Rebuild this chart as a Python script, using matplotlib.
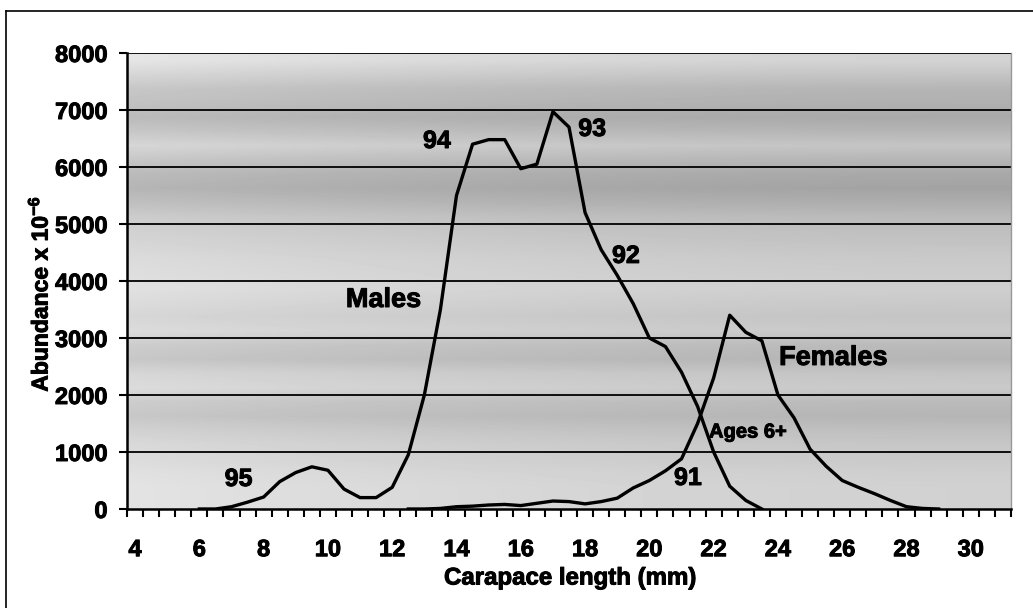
import numpy as np
import matplotlib
matplotlib.use("Agg")
import matplotlib.pyplot as plt
from matplotlib.lines import Line2D
import matplotlib.patheffects as pe

plt.rcParams['font.family'] = ['Liberation Sans', 'DejaVu Sans']
plt.rcParams['font.weight'] = 'bold'
plt.rcParams['mathtext.fontset'] = 'custom'
plt.rcParams['mathtext.rm'] = 'Liberation Sans:bold'
plt.rcParams['mathtext.bf'] = 'Liberation Sans:bold'
plt.rcParams['mathtext.default'] = 'bf'

# ---- data (carapace length, mm; abundance x 10^-6) ----
males_x = [6, 6.5, 7, 7.5, 8, 8.5, 9, 9.5, 10, 10.5, 11, 11.5, 12, 12.5, 13, 13.5,
           14, 14.5, 15, 15.5, 16, 16.5, 17, 17.5, 18, 18.5, 19, 19.5, 20, 20.5,
           21, 21.5, 22, 22.5, 23, 23.5]
males_y = [0, 0, 40, 120, 210, 480, 640, 740, 680, 350, 200, 200, 380, 950, 2000, 3500,
           5500, 6400, 6480, 6480, 5970, 6050, 6970, 6700, 5200, 4550, 4100, 3600, 3000, 2850,
           2400, 1800, 1000, 400, 150, 0]

females_x = [12.5, 13, 13.5, 14, 14.5, 15, 15.5, 16, 16.5, 17, 17.5, 18, 18.5, 19, 19.5,
             20, 20.5, 21, 21.5, 22, 22.5, 23, 23.5, 24, 24.5, 25, 25.5, 26, 26.5, 27,
             27.5, 28, 28.5, 29]
females_y = [0, 0, 10, 40, 50, 70, 80, 60, 100, 140, 130, 90, 130, 190, 370,
             500, 670, 880, 1500, 2300, 3400, 3100, 2950, 2000, 1600, 1050, 750, 500, 380, 270,
             150, 40, 10, 0]

x_tick_labels = [str(v) for v in range(4, 31, 2)]
y_ticks = list(range(0, 8001, 1000))

annotations = [("95", 7.22, 526, 18), ("94", 13.39, 6456, 18), ("93", 18.22, 6667, 18),
               ("92", 19.27, 4440, 18), ("91", 21.2, 544, 18), ("Males", 11.73, 3667, 19.5),
               ("Females", 25.72, 2650, 19.5), ("Ages 6+", 23.07, 1350, 14.5)]

bold_fx = [pe.withStroke(linewidth=0.7, foreground='black')]

# ---- figure ----
W, H = 1033, 608
fig = plt.figure(figsize=(W / 100, H / 100), dpi=100)
ax = fig.add_axes([127 / W, 1 - 509 / H, (1011 - 127) / W, (509 - 53) / H])

xmin, xmax = 3.75, 31.25
ymin, ymax = 0, 8000

# background shading (horizontal gray bands, like the scanned fill)
band_levels = [0.84, 0.84, 0.83, 0.81, 0.80, 0.77, 0.73, 0.75, 0.81, 0.79, 0.73, 0.75,
               0.81, 0.79, 0.81, 0.83, 0.82, 0.81, 0.79, 0.77, 0.75, 0.70, 0.66, 0.68,
               0.73, 0.79, 0.73, 0.68, 0.71, 0.73, 0.79, 0.85]  # bottom -> top
bands = np.array(band_levels)[::-1]
xs = np.linspace(0, 1, 60)
xfac = 0.07 * (1 - xs) ** 2 - 0.02
bg = np.clip(bands[:, None] + xfac[None, :], 0, 1)
ax.imshow(bg, extent=[xmin, xmax, ymin, ymax], aspect='auto', cmap='gray',
          vmin=0, vmax=1, interpolation='bilinear', zorder=0)

for yv in y_ticks[1:]:
    ax.axhline(yv, color='black', lw=1.3, zorder=1)

ax.plot(males_x, males_y, color='black', lw=2.4, zorder=3, solid_joinstyle='round')
ax.plot(females_x, females_y, color='black', lw=2.4, zorder=3, solid_joinstyle='round')

for txt, xv, yv, fs in annotations:
    ax.text(xv, yv, txt, fontsize=fs, fontweight='bold', ha='center', va='center',
            zorder=4, path_effects=bold_fx)

ax.set_xlim(xmin, xmax)
ax.set_ylim(ymin, ymax)

ax.set_xticks(np.arange(4, 31, 2))
ax.set_xticklabels(x_tick_labels)
ax.set_xticks(np.arange(xmin, xmax + 0.01, 0.5), minor=True)
ax.tick_params(axis='x', which='major', length=0, pad=21, labelsize=17)
ax.tick_params(axis='x', which='minor', length=6, width=1.5, direction='out')
ax.set_yticks(y_ticks)
ax.tick_params(axis='y', which='major', length=6, width=1.5, pad=8, labelsize=17)
for lab in ax.get_xticklabels() + ax.get_yticklabels():
    lab.set_path_effects(bold_fx)

for s in ['left', 'bottom']:
    ax.spines[s].set_linewidth(1.8)
    ax.spines[s].set_color('black')
ax.spines['top'].set_visible(False)
ax.spines['right'].set_color('#999999')
ax.spines['right'].set_linewidth(1.0)

fig.text(570 / W, 1 - 578 / H, "Carapace length (mm)", fontsize=17.3, fontweight='bold',
         ha='center', va='center', path_effects=bold_fx)
fig.text(40 / W, 1 - 294 / H, r"Abundance x 10$^{-6}$", fontsize=16.5,
         fontweight='bold', rotation=90, ha='center', va='center', path_effects=bold_fx)

# outer frame (left and top edges visible)
fig.add_artist(Line2D([6 / W, 6 / W], [0, 1 - 11 / H], transform=fig.transFigure,
                      color='black', lw=1.2))
fig.add_artist(Line2D([6 / W, 1], [1 - 11 / H, 1 - 11 / H], transform=fig.transFigure,
                      color='black', lw=1.2))

fig.savefig("out.png", dpi=100)
